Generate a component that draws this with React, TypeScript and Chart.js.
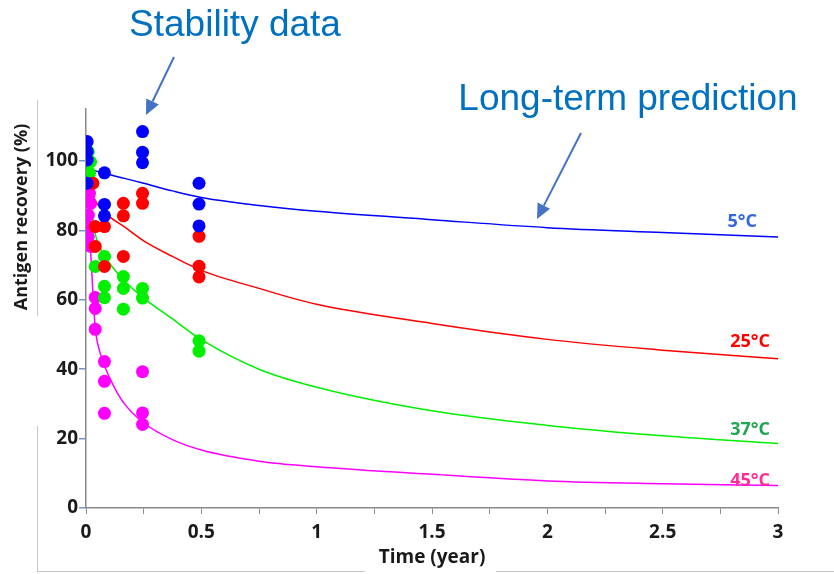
import { useEffect, useRef } from 'react';
import { Chart, registerables } from 'chart.js';

Chart.register(...registerables);

// ---- data ----
const seriesNames = ['5°C', '25°C', '37°C', '45°C'];
const seriesColors = ['#0000ff', '#ff0000', '#00f000', '#ff00ff'];
const labelColors = ['#3366e0', '#ff0000', '#1ea650', '#ff2d96'];

const xTickLabels = ['0', '0.5', '1', '1.5', '2', '2.5', '3'];
const yTickValues = [0, 20, 40, 60, 80, 100];

// measured stability data (time in years, recovery %)
const blueObsX = [0.005, 0.005, 0.005, 0.005, 0.08, 0.08, 0.08, 0.245, 0.245, 0.245, 0.49, 0.49, 0.49];
const blueObsY = [105.6, 102.7, 100.3, 93.6, 96.6, 87.5, 84.2, 108.5, 102.5, 99.5, 93.6, 87.6, 81.3];
const redObsX = [0.03, 0.04, 0.04, 0.08, 0.08, 0.162, 0.162, 0.162, 0.245, 0.245, 0.49, 0.49, 0.49];
const redObsY = [93.6, 81.1, 75.4, 81.1, 69.6, 87.8, 84.2, 72.5, 90.7, 87.8, 78.3, 69.7, 66.6];
const greenObsX = [0.01, 0.02, 0.015, 0.04, 0.08, 0.08, 0.08, 0.162, 0.162, 0.162, 0.245, 0.245, 0.49, 0.49];
const greenObsY = [102.7, 99.8, 96.5, 69.6, 72.5, 63.9, 60.6, 66.7, 63.3, 57.3, 63.3, 60.5, 48.2, 45.2];
const magentaObsX = [0.015, 0.02, 0.01, 0.01, 0.01, 0.02, 0.04, 0.04, 0.04, 0.08, 0.08, 0.08, 0.245, 0.245, 0.245];
const magentaObsY = [90.7, 87.8, 84.4, 81.1, 78.2, 75.4, 60.7, 57.5, 51.5, 42.2, 36.5, 27.3, 39.3, 27.4, 24.1];

// long-term prediction curves
const blueFitX = [0, 0.083, 0.167, 0.25, 0.375, 0.5, 0.75, 1, 1.5, 2, 2.5, 3];
const blueFitY = [98, 96.4, 95, 93.6, 91.4, 89.5, 87.2, 85.5, 83.1, 80.8, 79.4, 78.1];
const redFitX = [0, 0.02, 0.04, 0.083, 0.167, 0.25, 0.375, 0.5, 0.75, 1, 1.5, 2, 2.5, 3];
const redFitY = [95, 91.5, 88.5, 85, 81, 77, 72.5, 68.5, 63.3, 58.7, 53.2, 48.6, 45.5, 43];
const greenFitX = [0, 0.02, 0.04, 0.083, 0.167, 0.25, 0.375, 0.5, 0.75, 1, 1.5, 2, 2.5, 3];
const greenFitY = [97, 88, 79, 72.5, 65.5, 60.5, 54.5, 48.5, 40, 34.8, 28, 23.8, 20.8, 18.6];
const magentaFitX = [0, 0.01, 0.02, 0.03, 0.04, 0.06, 0.083, 0.125, 0.167, 0.25, 0.375, 0.5, 0.75, 1, 1.5, 2, 2.5, 3];
const magentaFitY = [96, 85, 74, 62, 52, 45, 40.5, 34.5, 30, 24.5, 19.7, 16.7, 13.5, 11.9, 9.7, 7.8, 7, 6.5];

const obsX = [blueObsX, redObsX, greenObsX, magentaObsX];
const obsY = [blueObsY, redObsY, greenObsY, magentaObsY];
const fitX = [blueFitX, redFitX, greenFitX, magentaFitX];
const fitY = [blueFitY, redFitY, greenFitY, magentaFitY];

const zip = (xs: number[], ys: number[]) => xs.map((x, i) => ({ x, y: ys[i] }));

const TICK_FONT = { family: '"Open Sans", sans-serif', size: 19, weight: 'bold' as const };
const ANNOT_BLUE = '#0070c0';
const ARROW_BLUE = '#4472c4';

function drawArrow(ctx: CanvasRenderingContext2D, x1: number, y1: number, x2: number, y2: number) {
  const ang = Math.atan2(y2 - y1, x2 - x1);
  const head = 15;
  const w = 7;
  const bx = x2 - head * Math.cos(ang);
  const by = y2 - head * Math.sin(ang);
  ctx.beginPath();
  ctx.moveTo(x1, y1);
  ctx.lineTo(bx, by);
  ctx.stroke();
  ctx.beginPath();
  ctx.moveTo(x2, y2);
  ctx.lineTo(bx + w * Math.sin(ang), by - w * Math.cos(ang));
  ctx.lineTo(bx - w * Math.sin(ang), by + w * Math.cos(ang));
  ctx.closePath();
  ctx.fill();
}

const decorPlugin = {
  id: 'decor',
  beforeDraw(chart: any) {
    const ctx: CanvasRenderingContext2D = chart.ctx;
    ctx.save();
    ctx.fillStyle = '#ffffff';
    ctx.fillRect(0, 0, chart.width, chart.height);
    ctx.strokeStyle = '#c8c8c8';
    ctx.lineWidth = 1;
    ctx.beginPath();
    ctx.moveTo(37.5, 100);
    ctx.lineTo(37.5, 316);
    ctx.moveTo(37.5, 426);
    ctx.lineTo(37.5, 572);
    ctx.moveTo(37, 571.5);
    ctx.lineTo(365, 571.5);
    ctx.moveTo(496, 571.5);
    ctx.lineTo(834, 571.5);
    ctx.stroke();
    ctx.restore();
  },
  afterDraw(chart: any) {
    const ctx: CanvasRenderingContext2D = chart.ctx;
    ctx.save();
    // y-axis title
    ctx.translate(22, 217);
    ctx.rotate(-Math.PI / 2);
    ctx.font = 'bold 18px "Open Sans", sans-serif';
    ctx.fillStyle = '#1a1a1a';
    ctx.textAlign = 'center';
    ctx.textBaseline = 'middle';
    ctx.fillText('Antigen recovery (%)', 0, 0);
    ctx.restore();

    ctx.save();
    ctx.font = '37px "Liberation Sans", Arial, sans-serif';
    ctx.fillStyle = ANNOT_BLUE;
    ctx.textAlign = 'center';
    ctx.textBaseline = 'alphabetic';
    ctx.fillText('Stability data', 235, 36);
    ctx.fillText('Long-term prediction', 628, 110);
    ctx.strokeStyle = ARROW_BLUE;
    ctx.fillStyle = ARROW_BLUE;
    ctx.lineWidth = 2;
    drawArrow(ctx, 174, 57, 146, 115);
    drawArrow(ctx, 581, 133, 537, 219);

    // series labels
    ctx.font = 'bold 18px "Open Sans", sans-serif';
    ctx.textAlign = 'right';
    ctx.textBaseline = 'middle';
    const labelPos = [
      [757, 222],
      [770, 342],
      [770, 430],
      [770, 481],
    ];
    seriesNames.forEach((n, i) => {
      ctx.fillStyle = labelColors[i];
      ctx.fillText(n, labelPos[i][0], labelPos[i][1]);
    });
    ctx.restore();
  },
};

export default function App() {
  const canvasRef = useRef<HTMLCanvasElement | null>(null);

  useEffect(() => {
    if (!canvasRef.current) return;
    const lineSets = seriesNames.map((n, i) => ({
      label: n + ' prediction',
      data: zip(fitX[i], fitY[i]),
      showLine: true,
      borderColor: seriesColors[i],
      backgroundColor: seriesColors[i],
      borderWidth: 1.5,
      pointRadius: 0,
      cubicInterpolationMode: 'monotone' as const,
      order: 2,
    }));
    const dotSets = seriesNames.map((n, i) => ({
      label: n,
      data: zip(obsX[i], obsY[i]),
      showLine: false,
      backgroundColor: seriesColors[i],
      borderColor: seriesColors[i],
      borderWidth: 0,
      pointRadius: 6.5,
      order: 1,
    }));

    const chart = new Chart(canvasRef.current, {
      type: 'scatter',
      data: { datasets: [...dotSets, ...lineSets] as any },
      options: {
        animation: false,
        responsive: false,
        layout: { padding: { left: 0, right: 56, top: 109, bottom: 0 } },
        plugins: { legend: { display: false }, tooltip: { enabled: false } },
        scales: {
          x: {
            type: 'linear',
            min: 0,
            max: 3,
            afterFit: (s: any) => {
              s.height = 66;
            },
            ticks: {
              stepSize: 0.25,
              autoSkip: false,
              maxRotation: 0,
              padding: 7,
              color: '#1a1a1a',
              font: TICK_FONT,
              callback: (v: any) => {
                const idx = Math.round(Number(v) * 2);
                return Math.abs(Number(v) * 2 - idx) < 1e-6 ? xTickLabels[idx] : '';
              },
            },
            grid: { drawOnChartArea: false, drawTicks: true, tickLength: 6, tickColor: '#8a8a8a', lineWidth: 1 },
            border: { color: '#8a8a8a', width: 1.5 },
            title: {
              display: true,
              text: 'Time (year)',
              color: '#1a1a1a',
              font: { family: '"Open Sans", sans-serif', size: 19, weight: 'bold' },
              padding: { top: 0, bottom: 5 },
            },
          },
          y: {
            type: 'linear',
            min: 0,
            max: 115,
            afterFit: (s: any) => {
              s.width = 86;
            },
            afterBuildTicks: (s: any) => {
              s.ticks = yTickValues.map((v) => ({ value: v }));
            },
            ticks: { color: '#1a1a1a', font: TICK_FONT, padding: 1 },
            grid: { drawOnChartArea: false, drawTicks: true, tickLength: 7, tickColor: '#7094cc', lineWidth: 1.5 },
            border: { color: '#8a8a8a', width: 1.5 },
          },
        },
      },
      plugins: [decorPlugin],
    });
    return () => chart.destroy();
  }, []);

  return (
    <div style={{ position: 'absolute', left: 0, top: 0, width: 834, height: 574 }}>
      <canvas ref={canvasRef} width={834} height={574} />
    </div>
  );
}
